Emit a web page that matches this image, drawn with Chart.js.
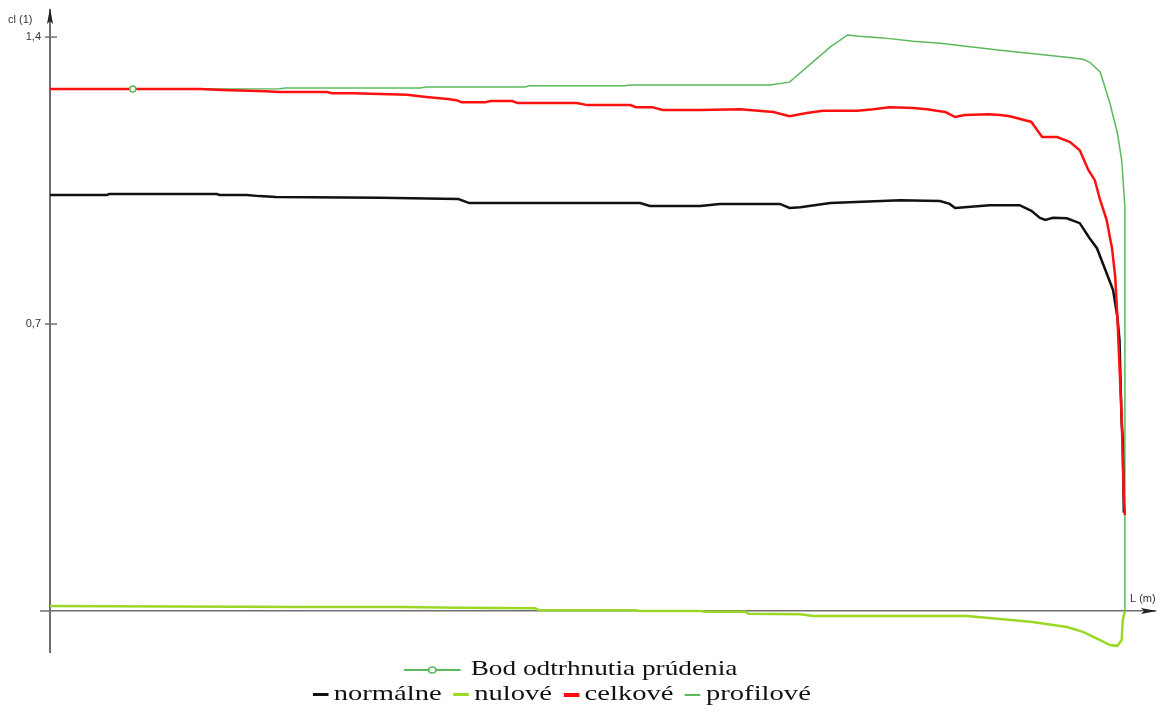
<!DOCTYPE html>
<html>
<head>
<meta charset="utf-8">
<script src="https://cdn.jsdelivr.net/npm/chart.js@4"></script>
<style>
body{margin:0;background:#fff;}
#wrap{position:relative;width:1161px;height:726px;}
#legenda{position:absolute;left:0;top:655px;width:1161px;font-family:"Liberation Serif","Times New Roman",serif;font-size:22px;color:#111;}
.riadok{text-align:center;height:25px;line-height:25px;white-space:nowrap;}
.riadok .in{display:inline-block;transform-origin:center;}
.dash{display:inline-block;vertical-align:middle;width:12px;margin:0 4px 0 9px;}
</style>
</head>
<body>
<div id="wrap">
<canvas id="graf" width="1161" height="726"></canvas>
<div id="legenda">
  <div class="riadok"><span class="in" id="r1"></span></div>
  <div class="riadok"><span class="in" id="r2"></span></div>
</div>
</div>
<script>
// L (m) -- poloha pozdlz krivky, cl (1)
const normalneL  = [0,0.053,0.055,0.155,0.158,0.183,0.195,0.21,0.307,0.38,0.39,0.474,0.549,0.558,0.605,0.623,0.679,0.688,0.698,0.726,0.791,0.828,0.837,0.842,0.851,0.874,0.902,0.913,0.921,0.926,0.933,0.946,0.958,0.967,0.974,0.983,0.989,0.993,0.995,0.996,0.997,0.998,0.999];
const normalneCl = [1.015,1.015,1.017,1.017,1.015,1.015,1.012,1.010,1.008,1.005,0.995,0.995,0.995,0.988,0.988,0.993,0.993,0.983,0.985,0.995,1.002,1.0,0.993,0.983,0.985,0.99,0.99,0.976,0.959,0.954,0.959,0.958,0.946,0.910,0.885,0.824,0.783,0.717,0.661,0.556,0.459,0.417,0.24];

const celkoveL  = [0,0.14,0.16,0.2,0.214,0.258,0.262,0.281,0.307,0.332,0.35,0.37,0.378,0.383,0.405,0.41,0.43,0.435,0.49,0.5,0.54,0.545,0.56,0.57,0.605,0.642,0.673,0.688,0.704,0.719,0.751,0.766,0.781,0.803,0.816,0.825,0.833,0.842,0.851,0.874,0.884,0.893,0.913,0.923,0.937,0.949,0.958,0.966,0.972,0.977,0.983,0.988,0.991,0.993,0.997,0.999,1.0];
const celkoveCl = [1.273,1.273,1.271,1.268,1.266,1.266,1.263,1.263,1.261,1.259,1.254,1.249,1.246,1.241,1.241,1.244,1.244,1.239,1.239,1.234,1.234,1.229,1.229,1.222,1.222,1.224,1.217,1.207,1.215,1.220,1.220,1.224,1.229,1.227,1.224,1.220,1.217,1.205,1.210,1.212,1.210,1.207,1.193,1.156,1.156,1.144,1.124,1.076,1.051,1.002,0.954,0.885,0.815,0.717,0.473,0.276,0.234];

const profiloveL  = [0,0.214,0.219,0.344,0.35,0.442,0.446,0.535,0.54,0.67,0.688,0.726,0.742,0.753,0.775,0.803,0.828,0.884,0.946,0.961,0.967,0.977,0.986,0.993,0.997,1.0,1.0];
const profiloveCl = [1.273,1.274,1.276,1.276,1.278,1.278,1.281,1.281,1.283,1.283,1.290,1.376,1.405,1.402,1.398,1.390,1.385,1.368,1.351,1.346,1.339,1.315,1.239,1.166,1.100,0.985,0];

const nuloveL  = [0,0.233,0.326,0.38,0.451,0.455,0.544,0.549,0.605,0.61,0.647,0.65,0.698,0.71,0.853,0.874,0.914,0.946,0.961,0.977,0.986,0.993,0.997,0.998,1.0];
const nuloveCl = [0.012,0.010,0.010,0.008,0.007,0.002,0.002,0,0,-0.002,-0.002,-0.007,-0.008,-0.012,-0.012,-0.017,-0.027,-0.039,-0.051,-0.071,-0.083,-0.085,-0.071,-0.022,0];

const odtrhnutieL  = [0.077];
const odtrhnutieCl = [1.273];

const yTicks = [0.7, 1.4];

const zelena = '#5cb85c';
const zltozelena = '#9ad825';
const cervena = '#ff1010';
const cierna = '#111111';

function body(L, cl){
    return L.map((x,i)=>({x:x, y:cl[i]}));
}

const osi = {
    id:'osi',
    afterDraw(chart){
        const ctx = chart.ctx;
        const a = chart.chartArea;
        const y = chart.scales.y;
        const y0 = y.getPixelForValue(0);
        ctx.save();
        ctx.strokeStyle = '#6e6e6e';
        ctx.lineWidth = 1.5;
        ctx.beginPath(); ctx.moveTo(a.left-10, y0); ctx.lineTo(a.left, y0); ctx.stroke();
        yTicks.forEach(v=>{
            const p = y.getPixelForValue(v);
            ctx.beginPath(); ctx.moveTo(a.left-5, p); ctx.lineTo(a.left+7, p); ctx.stroke();
        });
        // sipky
        ctx.fillStyle = '#222';
        ctx.beginPath(); ctx.moveTo(a.left, a.top-2); ctx.lineTo(a.left-3, a.top+14); ctx.lineTo(a.left, a.top+11); ctx.lineTo(a.left+3, a.top+14); ctx.closePath(); ctx.fill();
        ctx.beginPath(); ctx.moveTo(a.right+2, y0); ctx.lineTo(a.right-14, y0-3); ctx.lineTo(a.right-11, y0); ctx.lineTo(a.right-14, y0+3); ctx.closePath(); ctx.fill();
        ctx.fillStyle = '#333';
        ctx.font = '11px "Liberation Sans", Arial, sans-serif';
        ctx.textBaseline = 'middle';
        ctx.textAlign = 'left';
        ctx.fillText('cl (1)', 8, 20);
        ctx.fillText('L (m)', a.right-25, y0-12);
        ctx.restore();
    }
};

const ctx = document.getElementById('graf');
const graf = new Chart(ctx, {
    type:'line',
    data:{
        datasets:[
            {label:'Bod odtrhnutia prúdenia', data:body(odtrhnutieL, odtrhnutieCl), borderColor:zelena, backgroundColor:'#ffffff', pointRadius:3, pointBorderWidth:1.5, showLine:false},
            {label:'celkové', data:body(celkoveL, celkoveCl), borderColor:cervena, borderWidth:2.5, pointRadius:0},
            {label:'normálne', data:body(normalneL, normalneCl), borderColor:cierna, borderWidth:2.5, pointRadius:0},
            {label:'profilové', data:body(profiloveL, profiloveCl), borderColor:zelena, borderWidth:1.5, pointRadius:0},
            {label:'nulové', data:body(nuloveL, nuloveCl), borderColor:zltozelena, borderWidth:2.5, pointRadius:0}
        ]
    },
    options:{
        responsive:false,
        animation:false,
        layout:{padding:{left:0, top:10, right:6, bottom:74}},
        plugins:{legend:{display:false}, tooltip:{enabled:false}},
        scales:{
            x:{
                type:'linear', min:0, max:1.028, position:{y:0},
                afterFit: s => { s.paddingLeft = 0; s.paddingRight = 0; },
                ticks:{display:false},
                grid:{display:true, drawOnChartArea:false, drawTicks:false},
                border:{display:true, color:'#6e6e6e', width:1.5}
            },
            y:{
                type:'linear', min:-0.1, max:1.466,
                afterFit: s => { s.width = 50; s.paddingTop = 0; s.paddingBottom = 0; },
                afterBuildTicks: s => { s.ticks = yTicks.map(v=>({value:v})); },
                ticks:{
                    callback: v => String(v).replace('.', ','),
                    font:{family:'"Liberation Sans", Arial, sans-serif', size:11},
                    color:'#333', padding:9
                },
                grid:{display:true, drawOnChartArea:false, drawTicks:false},
                border:{display:true, color:'#6e6e6e', width:2}
            }
        }
    },
    plugins:[osi]
});

// legenda
const ds = graf.data.datasets;
document.getElementById('r1').innerHTML =
    '<svg width="46" height="10" style="vertical-align:middle;margin-right:8px"><line x1="0" y1="5" x2="46" y2="5" stroke="'+zelena+'" stroke-width="2"/><circle cx="23" cy="5" r="3" fill="#fff" stroke="'+zelena+'" stroke-width="1.5"/></svg>' + ds[0].label;
const poradie = [2,4,1,3];
const hrubka = {2:3, 4:3, 1:4, 3:2};
document.getElementById('r2').innerHTML = poradie.map(i =>
    '<span class="dash" style="height:'+hrubka[i]+'px;background:'+ds[i].borderColor+'"></span>' + ds[i].label
).join('');
document.getElementById('r1').style.transform = 'translateX(-10px) scaleX(1.24)';
document.getElementById('r2').style.transform = 'translateX(-24px) scaleX(1.3)';
</script>
</body>
</html>
